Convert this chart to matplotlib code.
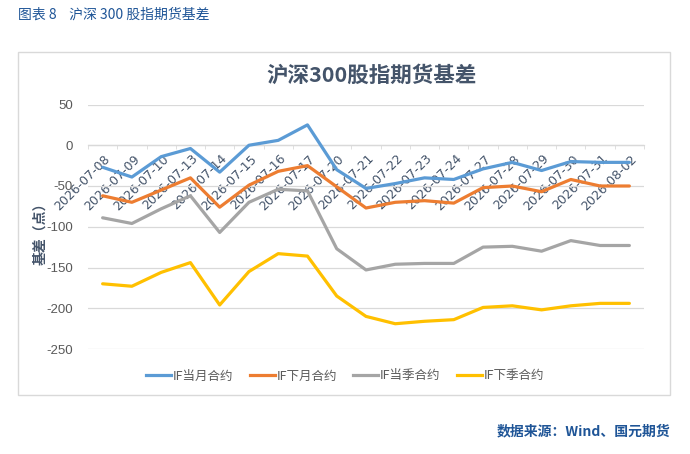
import matplotlib
matplotlib.use("Agg")
import matplotlib.pyplot as plt
from matplotlib.patches import Rectangle
from matplotlib.lines import Line2D
from matplotlib.transforms import ScaledTranslation

plt.rcParams['font.family'] = ['Noto Sans CJK SC', 'DejaVu Sans']

dates = ["2026-07-08", "2026-07-09", "2026-07-10", "2026-07-13", "2026-07-14",
         "2026-07-15", "2026-07-16", "2026-07-17", "2026-07-20", "2026-07-21",
         "2026-07-22", "2026-07-23", "2026-07-24", "2026-07-27", "2026-07-28",
         "2026-07-29", "2026-07-30", "2026-07-31", "2026-08-02"]
if_cur_month = [-27, -39, -14, -4, -33, 0, 6, 25, -30, -53, -47, -40, -42, -29, -21, -31, -20, -21, -21]
if_next_month = [-62, -70, -55, -40, -76, -49, -32, -25, -51, -77, -70, -68, -71, -52, -50, -57, -42, -50, -50]
if_cur_quarter = [-89, -96, -78, -62, -107, -70, -54, -56, -127, -153, -146, -145, -145, -125, -124, -130, -117, -123, -123]
if_next_quarter = [-170, -173, -156, -144, -196, -155, -133, -136, -185, -210, -219, -216, -214, -199, -197, -202, -197, -194, -194]
series_names = ["IF当月合约", "IF下月合约", "IF当季合约", "IF下季合约"]
series_colors = ["#5b9bd5", "#ed7d31", "#a5a5a5", "#ffc000"]
yticks = [50, 0, -50, -100, -150, -200, -250]

W, H = 690, 454
fig = plt.figure(figsize=(W / 100, H / 100), dpi=100)

def fx(px):
    return px / W

def fy(py):
    return 1 - py / H

# outer chart box
fig.patches.append(Rectangle((fx(18), fy(395)), fx(670) - fx(18), fy(52) - fy(395),
                             transform=fig.transFigure, fill=False,
                             edgecolor="#d9d9d9", linewidth=1.0))

ax = fig.add_axes([fx(88), fy(349), fx(644) - fx(88), fy(104.5) - fy(349)])
x = list(range(len(dates)))
all_series = [if_cur_month, if_next_month, if_cur_quarter, if_next_quarter]
for vals, name, col in zip(all_series, series_names, series_colors):
    ax.plot(x, vals, color=col, linewidth=2.3, label=name, solid_capstyle='round',
            solid_joinstyle='round', zorder=3)

ax.set_xlim(-0.5, len(dates) - 0.5)
ax.set_ylim(-250, 50)
ax.set_yticks(yticks)
ax.set_yticklabels([str(v) for v in yticks], color="#595959", fontsize=9.5,
                   family=['Liberation Sans'])
ax.tick_params(axis='y', length=0, pad=11)
ax.grid(axis='y', color="#d9d9d9", linewidth=0.9, zorder=0)
for s in ['top', 'right', 'left']:
    ax.spines[s].set_visible(False)
ax.spines['bottom'].set_position(('data', 0))
ax.spines['bottom'].set_color("#d9d9d9")
ax.spines['bottom'].set_linewidth(0.9)

ax.set_xticks(x)
ax.set_xticklabels(dates, rotation=45, ha='right', rotation_mode='anchor',
                   color="#44546a", fontsize=9, family=['DejaVu Sans'])
ax.tick_params(axis='x', which='major', length=0, pad=5)
ax.set_xticks([i - 0.5 for i in range(len(dates) + 1)], minor=True)
ax.tick_params(axis='x', which='minor', length=3, color="#d9d9d9", direction='out')
offset = ScaledTranslation(1 / 100, 0, fig.dpi_scale_trans)
for lbl in ax.get_xticklabels():
    lbl.set_transform(lbl.get_transform() + offset)

# chart title
fig.text(fx(371), fy(75), "沪深300股指期货基差", ha='center', va='center',
         fontsize=15.5, fontweight='bold', color="#44546a")

# y label
fig.text(fx(40), fy(230), "基差（点）", rotation=90, ha='center', va='center',
         fontsize=10, fontweight='bold', color="#44546a")

# legend
handles = [Line2D([0], [0], color=c, linewidth=2.3) for c in series_colors]
fig.legend(handles, series_names, loc='center', bbox_to_anchor=(fx(345), fy(376)),
           ncol=4, frameon=False, fontsize=9, handlelength=2.0, columnspacing=1.3,
           handletextpad=0.15, labelcolor="#595959")

# header & footer
fig.text(fx(18), fy(15), "图表 8    沪深 300 股指期货基差", ha='left', va='center',
         fontsize=10, color="#1f5597")
fig.text(fx(670), fy(431), "数据来源：Wind、国元期货", ha='right', va='center',
         fontsize=10, fontweight='bold', color="#1f5597")

fig.savefig("out.png", dpi=100)
